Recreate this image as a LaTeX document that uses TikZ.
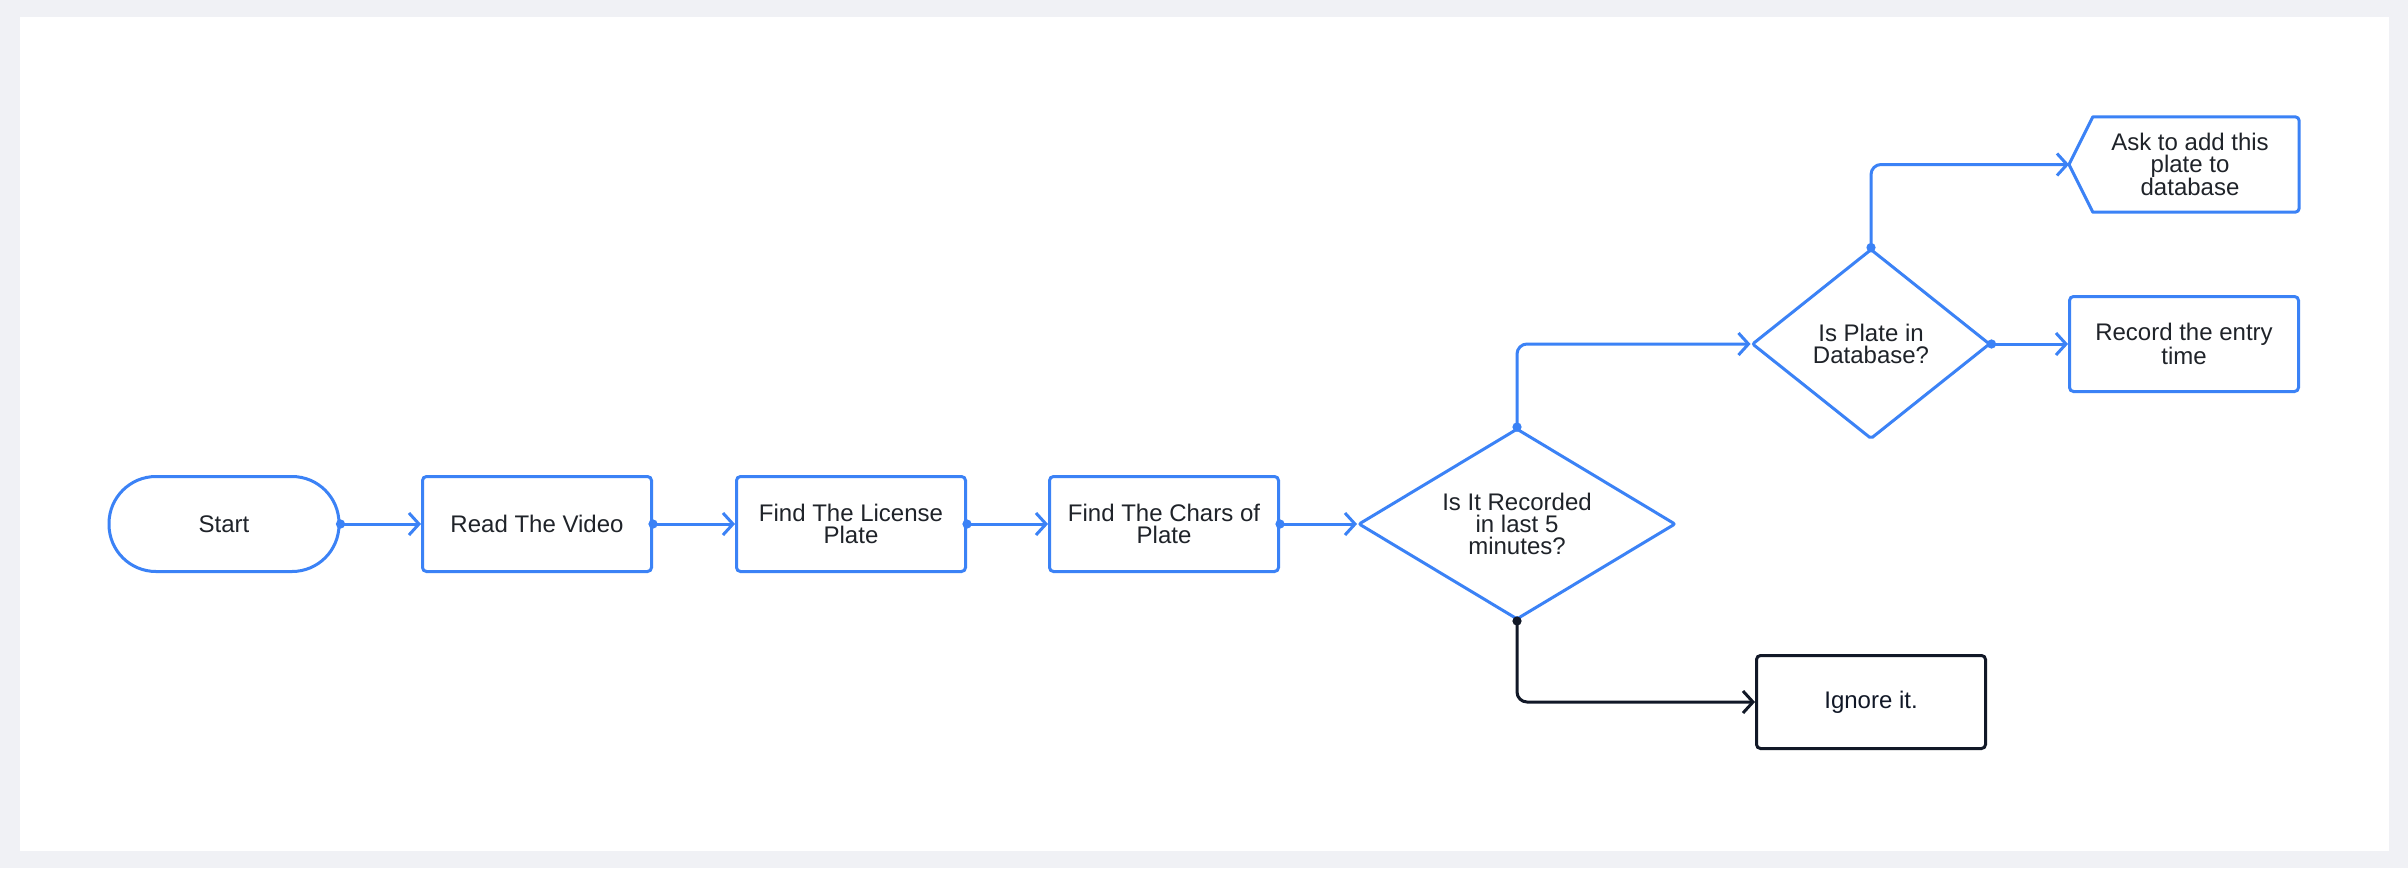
\documentclass[tikz,border=0pt]{standalone}
\usepackage{fontspec}
\setmainfont{Liberation Sans}
\usetikzlibrary{arrows.meta,shapes.geometric}
\definecolor{fcblue}{HTML}{3B82F6}
\definecolor{bggrey}{HTML}{F0F1F5}
\definecolor{txtc}{HTML}{1F2329}
\definecolor{blk}{HTML}{111827}
\newcommand\fcfont{\fontsize{24}{22}\selectfont}
\begin{document}
\begin{tikzpicture}[x=1pt,y=-1pt,
  box/.style={draw=fcblue, line width=3pt, rounded corners=4pt, minimum width=229pt, minimum height=95pt, inner sep=0pt, align=center, font=\fcfont, text=txtc},
  dia/.style={diamond, draw=fcblue, line width=3pt, rounded corners=2pt, inner sep=0pt, align=center, font=\fcfont, text=txtc},
  conn/.style={draw=fcblue, line width=3pt, {Circle[length=9pt]}-{Straight Barb[length=10pt,width=22pt]}, shorten <=-4.5pt, rounded corners=10pt},
  plain/.style={inner sep=0pt, align=center, font=\fcfont, text=txtc}]
\fill[bggrey] (0,0) rectangle (2408,868);
\fill[white] (20,17) rectangle (2389,851);
\useasboundingbox (0,0) rectangle (2408,868);

\node[box, rounded corners=47pt, minimum width=230pt] (start) at (224,524) {Start};
\node[box] (read) at (537,524) {Read The Video};
\node[box] (lic) at (851,524) {Find The License\\Plate};
\node[box] (chars) at (1164,524) {Find The Chars of\\Plate};
\node[dia, aspect=1.66, minimum width=317pt, minimum height=191pt] (d1) at (1517,524) {Is It Recorded\\in last 5\\minutes?};
\node[dia, aspect=1.25, minimum width=238pt, minimum height=190pt] (d2) at (1871,344) {Is Plate in\\Database?};
\node[box] (rec) at (2184,344) {Record the entry\\time};
\node[box, draw=blk, text=blk, minimum height=93pt] (ign) at (1871,702) {Ignore it.};

% Ask box (display-like shape)
\node[inner sep=0pt, minimum width=206pt, minimum height=95pt] (askr) at (2196,164.5) {};
\coordinate (askpt) at (2069,164.5);
\draw[fcblue, line width=3pt, line join=round] (askpt) -- (askr.north west) [rounded corners=4pt] -- (askr.north east) -- (askr.south east) [sharp corners] -- (askr.south west) -- cycle;
\node[plain] (asktxt) at (2190,164.5) {Ask to add this\\plate to\\database};

\draw[conn] (start.east) -- (read.west);
\draw[conn] (read.east) -- (lic.west);
\draw[conn] (lic.east) -- (chars.west);
\draw[conn] (chars.east) -- (d1.west);
\draw[conn] (d1.north) |- (d2.west);
\draw[conn] (d2.north) |- (askpt);
\draw[conn] (d2.east) -- (rec.west);
\draw[conn, draw=blk] (d1.south) |- (ign.west);
\end{tikzpicture}
\end{document}
